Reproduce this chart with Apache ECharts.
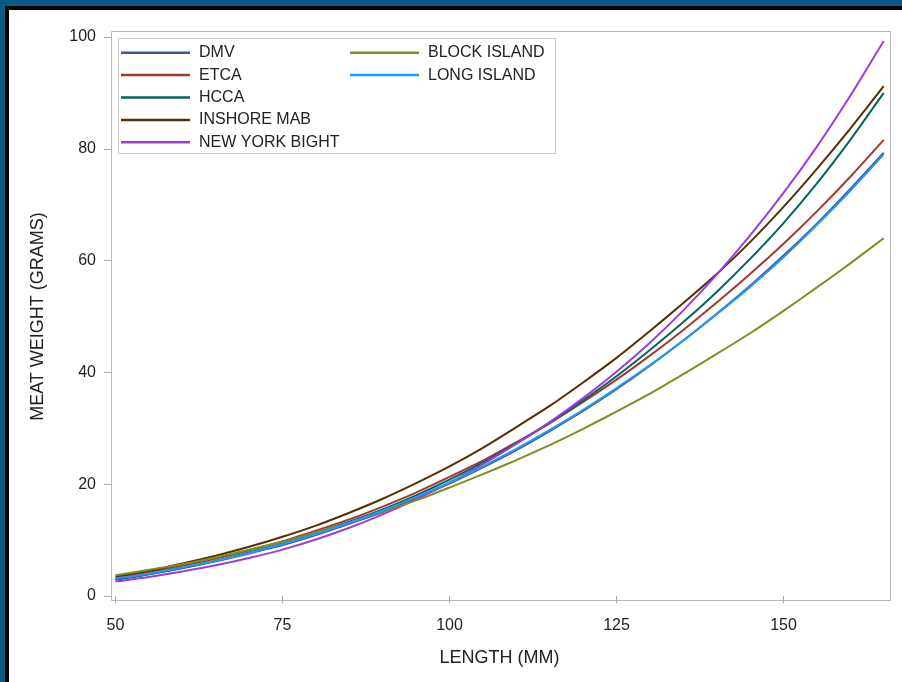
<!DOCTYPE html>
<html>
<head>
<meta charset="utf-8">
<script src="https://cdn.jsdelivr.net/npm/echarts@6/dist/echarts.min.js"></script>
<style>
  html, body { margin: 0; padding: 0; background: #fff; }
  #chart { width: 902px; height: 682px; }
</style>
</head>
<body>
<div id="chart"></div>
<script>
// shell length (mm) at which each curve is read
const lengths = [50, 55, 60, 65, 70, 75, 80, 85, 90, 95, 100, 105, 110, 115, 120, 125, 130, 135, 140, 145, 150, 155, 160, 165];

// meat weight (g)
const dmv = [3.0, 3.9, 5.0, 6.2, 7.6, 9.1, 10.9, 12.9, 15.0, 17.5, 20.1, 23.0, 26.1, 29.5, 33.1, 37.0, 41.2, 45.7, 50.5, 55.5, 60.9, 66.6, 72.8, 79.3];
const etca = [3.3, 4.3, 5.4, 6.7, 8.2, 9.8, 11.7, 13.7, 16.0, 18.5, 21.3, 24.2, 27.5, 30.9, 34.7, 38.7, 43.0, 47.6, 52.5, 57.6, 63.0, 68.8, 75.0, 81.6];
const hcca = [2.9, 3.9, 5.0, 6.3, 7.8, 9.4, 11.3, 13.3, 15.5, 18.0, 20.8, 23.9, 27.3, 31.0, 35.0, 39.3, 44.0, 49.0, 54.4, 60.3, 66.7, 73.8, 81.6, 90.0];
const inshoreMab = [3.5, 4.5, 5.8, 7.2, 8.8, 10.6, 12.6, 14.9, 17.4, 20.2, 23.2, 26.5, 30.2, 34.0, 38.2, 42.6, 47.4, 52.4, 57.6, 63.3, 69.6, 76.4, 83.6, 91.2];
const newYorkBight = [2.6, 3.4, 4.4, 5.5, 6.8, 8.3, 10.1, 12.2, 14.6, 17.3, 20.3, 23.6, 27.2, 31.1, 35.4, 40.1, 45.3, 51.1, 57.5, 64.5, 72.1, 80.4, 89.5, 99.3];
const blockIsland = [3.7, 4.7, 5.7, 6.9, 8.3, 9.7, 11.4, 13.1, 15.1, 17.1, 19.4, 21.8, 24.3, 27.0, 29.9, 33.0, 36.2, 39.7, 43.3, 47.0, 51.0, 55.2, 59.5, 64.0];
const longIsland = [3.1, 4.0, 5.1, 6.3, 7.7, 9.3, 11.1, 13.1, 15.3, 17.7, 20.3, 23.2, 26.3, 29.7, 33.3, 37.2, 41.3, 45.7, 50.4, 55.3, 60.6, 66.4, 72.5, 79.0];

const xTicks = [50, 75, 100, 125, 150];
const yTicks = [0, 20, 40, 60, 80, 100];

const groups = [
  { name: 'DMV', values: dmv, color: '#445694' },
  { name: 'ETCA', values: etca, color: '#A23A2E' },
  { name: 'HCCA', values: hcca, color: '#01665E' },
  { name: 'INSHORE MAB', values: inshoreMab, color: '#543005' },
  { name: 'NEW YORK BIGHT', values: newYorkBight, color: '#9D3CDB' },
  { name: 'BLOCK ISLAND', values: blockIsland, color: '#7F8E1F' },
  { name: 'LONG ISLAND', values: longIsland, color: '#2597FA' }
];

const font = 'Arial, "Liberation Sans", sans-serif';
const frameBlue = '#0b5a82';

const legendCommon = {
  orient: 'vertical',
  top: 41.5,
  padding: 0,
  icon: 'rect',
  itemWidth: 69,
  itemHeight: 2.5,
  itemGap: 0,
  textStyle: { fontFamily: font, fontSize: 16, color: '#222', lineHeight: 22.4, padding: [0, 0, 0, 4] }
};

const chart = echarts.init(document.getElementById('chart'));

chart.setOption({
  backgroundColor: '#fff',
  animation: false,
  grid: { left: 115.5, right: 18.3, top: 37, bottom: 86 },
  legend: [
    Object.assign({ left: 121, data: groups.slice(0, 5).map(g => g.name) }, legendCommon),
    Object.assign({ left: 350, data: groups.slice(5).map(g => g.name) }, legendCommon)
  ],
  xAxis: {
    type: 'value',
    min: 50,
    max: 165,
    interval: 25,
    offset: 5,
    name: 'LENGTH (MM)',
    nameLocation: 'middle',
    nameGap: 48,
    nameTextStyle: { fontFamily: font, fontSize: 18, color: '#222' },
    axisLine: { show: false },
    axisTick: { show: true, length: 7, lineStyle: { color: '#a8a8a8' } },
    axisLabel: {
      fontFamily: font, fontSize: 16, color: '#222', margin: 17,
      showMaxLabel: false,
      formatter: v => (xTicks.includes(v) ? String(v) : '')
    },
    splitLine: { show: false }
  },
  yAxis: {
    type: 'value',
    min: 0,
    max: 100,
    interval: 20,
    offset: 4.5,
    name: 'MEAT WEIGHT (GRAMS)',
    nameLocation: 'middle',
    nameGap: 64,
    nameTextStyle: { fontFamily: font, fontSize: 18, color: '#222' },
    axisLine: { show: false },
    axisTick: { show: true, length: 7, lineStyle: { color: '#a8a8a8' } },
    axisLabel: {
      fontFamily: font, fontSize: 16, color: '#222', margin: 15,
      formatter: v => (yTicks.includes(v) ? String(v) : '')
    },
    splitLine: { show: false }
  },
  series: groups.map(g => ({
    name: g.name,
    type: 'line',
    symbol: 'none',
    smooth: 0.2,
    data: lengths.map((x, i) => [x, g.values[i]]),
    lineStyle: { width: 2, color: g.color },
    itemStyle: { color: g.color }
  })),
  graphic: [
    // plot box
    { type: 'rect', z: 0, silent: true, shape: { x: 111.5, y: 31.5, width: 779, height: 569 },
      style: { fill: 'none', stroke: '#b8b8b8', lineWidth: 1 } },
    // legend box
    { type: 'rect', z: 0, silent: true, shape: { x: 118.5, y: 38.5, width: 437, height: 115 },
      style: { fill: 'none', stroke: '#c8c8c8', lineWidth: 1 } },
    // outer frame
    { type: 'rect', z: 10, silent: true, shape: { x: 0, y: 0, width: 902, height: 6 }, style: { fill: frameBlue } },
    { type: 'rect', z: 10, silent: true, shape: { x: 0, y: 0, width: 5, height: 682 }, style: { fill: frameBlue } },
    { type: 'rect', z: 10, silent: true, shape: { x: 5, y: 6, width: 897, height: 4 }, style: { fill: '#000' } },
    { type: 'rect', z: 10, silent: true, shape: { x: 5, y: 6, width: 4, height: 676 }, style: { fill: '#000' } }
  ]
});
</script>
</body>
</html>
